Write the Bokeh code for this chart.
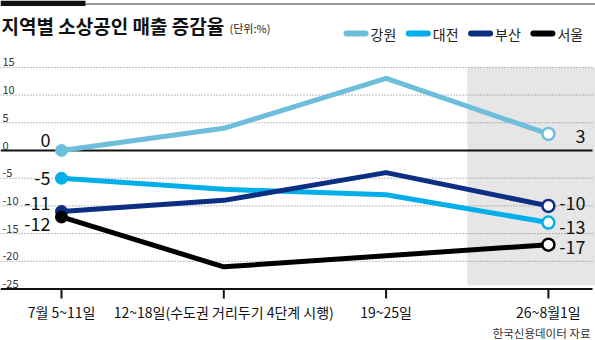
from bokeh.plotting import figure
from bokeh.models import Range1d
from bokeh.core.properties import value
from bokeh.embed import file_html
from bokeh.resources import INLINE

# ---------------- data ----------------
categories = ["7월 5~11일", "12~18일(수도권 거리두기 4단계 시행)", "19~25일", "26~8월1일"]
series_names = ["강원", "대전", "부산", "서울"]
gangwon = [0, 4, 13, 3]
daejeon = [-5, -7, -8, -13]
busan = [-11, -9, -4, -10]
seoul = [-12, -21, -19, -17]
y_ticks = [15, 10, 5, 0, -5, -10, -15, -20, -25]
title_text = "지역별 소상공인 매출 증감율"
unit_text = "(단위:%)"
source_text = "한국신용데이터 자료"

# ---------------- styles / layout ----------------
colors = ["#6dbedb", "#00afe9", "#0c2e83", "#000000"]
start_label_dy = [-11, 0, -8, 7]      # pixel offsets for start labels (강원, 대전, 부산, 서울)
end_label_dy = [2, 4, -3, 2]          # pixel offsets for end labels (강원, 대전, 부산, 서울)
FONT = "Noto Sans CJK KR"

W, H = 595, 340
PX_PER_UNIT = 5.54
Y_ZERO_PX = 150
X0_PX, X_STEP = 61, 162.3


def xd(px):
    return (px - X0_PX) / X_STEP


def yd(py):
    return (Y_ZERO_PX - py) / PX_PER_UNIT


p = figure(width=W, height=H, x_range=Range1d(xd(0), xd(W)), y_range=Range1d(yd(H), yd(0)),
           output_backend="svg", toolbar_location=None, min_border=0,
           x_axis_type=None, y_axis_type=None)
p.grid.visible = False
p.outline_line_color = None
p.background_fill_color = "white"
p.border_fill_color = "white"

xs = list(range(len(categories)))
all_series = [gangwon, daejeon, busan, seoul]

# highlighted last period
p.quad(left=[(xs[-2] + xs[-1]) / 2], right=[xd(W)], top=[y_ticks[0]], bottom=[yd(285)],
       fill_color="#e6e6e6", line_color=None)

# grid lines
grid_vals = [v for v in y_ticks if v not in (0, y_ticks[-1])]
p.segment(x0=[xd(0)] * len(grid_vals), x1=[xd(592)] * len(grid_vals), y0=grid_vals, y1=grid_vals,
          line_color="#777777", line_width=1, line_dash="1 2")
# zero line
p.segment(x0=[xd(0)], x1=[xd(592)], y0=[0], y1=[0], line_color="#111111", line_width=1.8)
# x axis line and ticks
p.segment(x0=[xd(0)], x1=[xd(592)], y0=[y_ticks[-1]], y1=[y_ticks[-1]], line_color="#111111", line_width=2)
p.segment(x0=xs, x1=xs, y0=[y_ticks[-1]] * len(xs), y1=[yd(298)] * len(xs), line_color="#111111", line_width=2)

# y tick labels
p.text(x=[xd(2)] * len(y_ticks), y=y_ticks, text=[str(v) for v in y_ticks],
       text_font=value(FONT), text_font_size="11px", text_color="#333333",
       text_baseline="bottom", text_align="left", y_offset=-1)

# x labels
p.text(x=xs, y=[yd(311)] * len(xs), text=categories, text_font=value(FONT), text_font_size="14px",
       text_color="#111111", text_align="center", text_baseline="middle")

# series
for name, vals, col, sdy, edy in zip(series_names, all_series, colors, start_label_dy, end_label_dy):
    p.line(x=xs, y=vals, line_color=col, line_width=5, line_join="round", line_cap="round")
    p.scatter(x=[xs[0]], y=[vals[0]], size=12, fill_color=col, line_color=col, line_width=1)
    p.scatter(x=[xs[-1]], y=[vals[-1]], size=12, fill_color="white", line_color=col, line_width=2.5)
    p.text(x=[xs[0]], y=[vals[0]], text=[str(vals[0])], text_font=value(FONT), text_font_size="18px",
           text_color="#111111", text_align="right", text_baseline="middle", x_offset=-11, y_offset=sdy)
    p.text(x=[xs[-1]], y=[vals[-1]], text=[str(vals[-1])], text_font=value(FONT), text_font_size="18px",
           text_color="#111111", text_align="right", text_baseline="middle", x_offset=37, y_offset=edy)

# legend
leg_x = [343 + 62.3 * i for i in range(len(series_names))]
for lx, name, col in zip(leg_x, series_names, colors):
    p.segment(x0=[xd(lx + 3)], x1=[xd(lx + 22)], y0=[yd(33)], y1=[yd(33)], line_color=col,
              line_width=6, line_cap="round")
    p.text(x=[xd(lx + 27)], y=[yd(33)], text=[name], text_font=value(FONT), text_font_size="14px",
           text_color="#222222", text_align="left", text_baseline="middle")

# title
p.text(x=[xd(1)], y=[yd(25)], text=[title_text], text_font=value(FONT), text_font_size="19px",
       text_font_style="bold", text_color="#111111", text_align="left", text_baseline="middle")
p.text(x=[xd(229)], y=[yd(27)], text=[unit_text], text_font=value(FONT), text_font_size="11px",
       text_color="#222222", text_align="left", text_baseline="middle")

# top bar
p.quad(left=[xd(0)], right=[xd(85)], top=[yd(0)], bottom=[yd(5.5)], fill_color="#111111", line_color=None)
p.segment(x0=[xd(85)], x1=[xd(W)], y0=[yd(3.5)], y1=[yd(3.5)], line_color="#333333", line_width=1.2)

# source
p.text(x=[xd(590)], y=[yd(332)], text=[source_text], text_font=value(FONT), text_font_size="11.5px",
       text_color="#333333", text_align="right", text_baseline="middle")

open("out.html", "w").write(file_html(p, INLINE))
